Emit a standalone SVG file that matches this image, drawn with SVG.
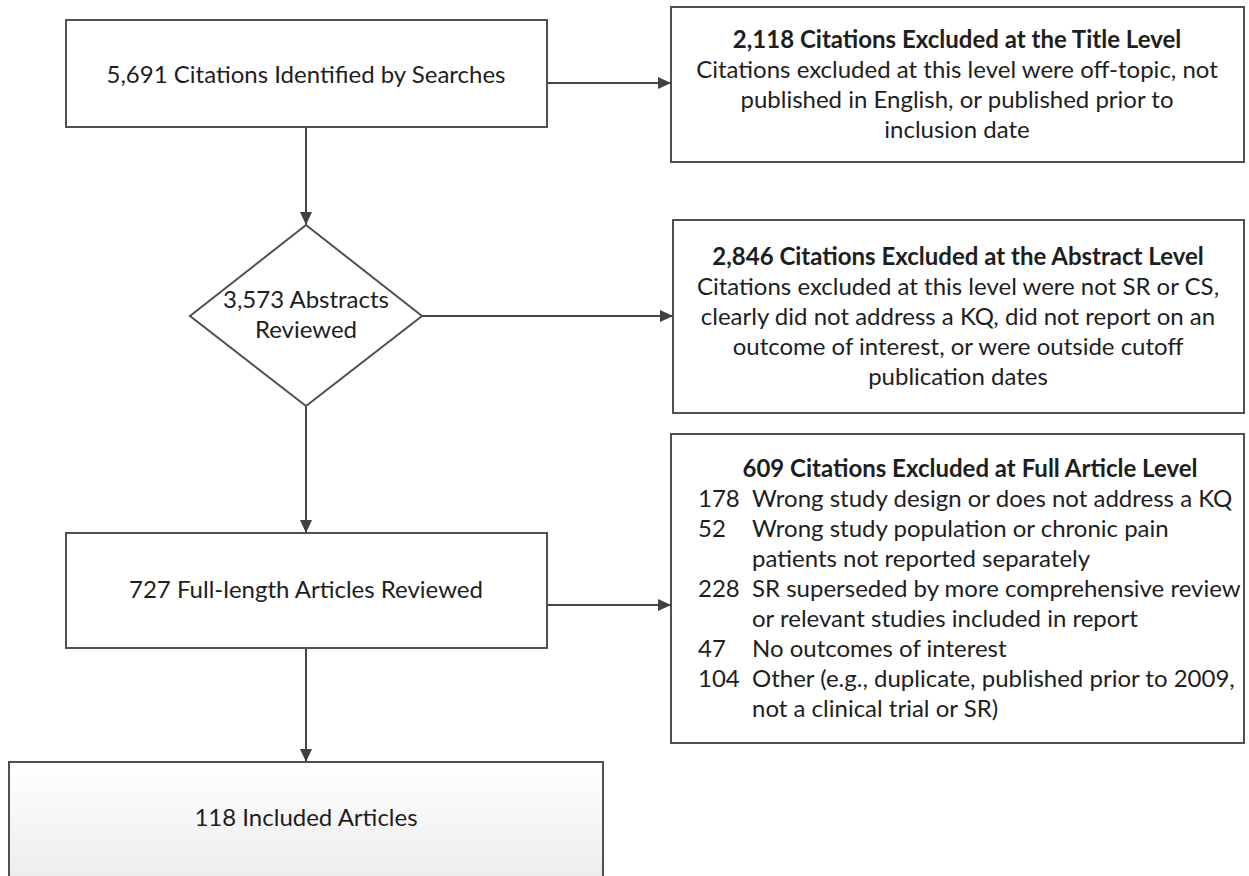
<svg xmlns="http://www.w3.org/2000/svg" width="1249" height="876" viewBox="0 0 1249 876">
<style>
.box{fill:#ffffff;stroke:#505050;stroke-width:2}
.t{font-family:Lato,"Liberation Sans",sans-serif;font-size:24px;fill:#1e1e1e}
.c{text-anchor:middle}
.b{font-weight:bold}
.con line{stroke:#454545;stroke-width:2;fill:none}
</style>
<defs>
<marker id="ah" markerUnits="userSpaceOnUse" markerWidth="14" markerHeight="12" refX="13" refY="6" orient="auto">
<path d="M0,0 L13,6 L0,12 Z" fill="#404040"/>
</marker>
<linearGradient id="g118" x1="0" y1="0" x2="0" y2="1">
<stop offset="0" stop-color="#ffffff"/>
<stop offset="1" stop-color="#e9e9e9"/>
</linearGradient>
</defs>
<rect width="1249" height="876" fill="#ffffff"/>

<g id="connectors" class="con">
<line x1="547" y1="83" x2="671" y2="83" marker-end="url(#ah)"/>
<line x1="306" y1="127" x2="306" y2="225" marker-end="url(#ah)"/>
<line x1="422" y1="316" x2="673" y2="316" marker-end="url(#ah)"/>
<line x1="306" y1="406" x2="306" y2="533" marker-end="url(#ah)"/>
<line x1="547" y1="605" x2="671" y2="605" marker-end="url(#ah)"/>
<line x1="306" y1="648" x2="306" y2="762" marker-end="url(#ah)"/>
</g>

<g id="n-searches">
<rect class="box" x="66" y="20" width="481" height="107"/>
<text class="t c" x="306" y="83">5,691 Citations Identified by Searches</text>
</g>

<g id="n-title-excl">
<rect class="box" x="671" y="7" width="573" height="155"/>
<text class="t c b" x="957" y="48">2,118 Citations Excluded at the Title Level</text>
<text class="t c" x="957" y="78">Citations excluded at this level were off-topic, not</text>
<text class="t c" x="957" y="108">published in English, or published prior to</text>
<text class="t c" x="957" y="138">inclusion date</text>
</g>

<g id="n-abstracts">
<polygon class="box" points="306,225 422,316 306,406 190,316"/>
<text class="t c" x="306" y="308">3,573 Abstracts</text>
<text class="t c" x="306" y="338">Reviewed</text>
</g>

<g id="n-abstract-excl">
<rect class="box" x="673" y="220" width="571" height="193"/>
<text class="t c b" x="958" y="265">2,846 Citations Excluded at the Abstract Level</text>
<text class="t c" x="958" y="295">Citations excluded at this level were not SR or CS,</text>
<text class="t c" x="958" y="325">clearly did not address a KQ, did not report on an</text>
<text class="t c" x="958" y="355">outcome of interest, or were outside cutoff</text>
<text class="t c" x="958" y="385">publication dates</text>
</g>

<g id="n-fulltext">
<rect class="box" x="66" y="533" width="481" height="115"/>
<text class="t c" x="306" y="598">727 Full-length Articles Reviewed</text>
</g>

<g id="n-full-excl">
<rect class="box" x="671" y="434" width="573" height="309"/>
<text class="t c b" x="970" y="477">609 Citations Excluded at Full Article Level</text>
<text class="t" x="698" y="507">178</text>
<text class="t" x="752" y="507">Wrong study design or does not address a KQ</text>
<text class="t" x="698" y="537">52</text>
<text class="t" x="752" y="537">Wrong study population or chronic pain</text>
<text class="t" x="752" y="567">patients not reported separately</text>
<text class="t" x="698" y="597">228</text>
<text class="t" x="752" y="597">SR superseded by more comprehensive review</text>
<text class="t" x="752" y="627">or relevant studies included in report</text>
<text class="t" x="698" y="657">47</text>
<text class="t" x="752" y="657">No outcomes of interest</text>
<text class="t" x="698" y="687">104</text>
<text class="t" x="752" y="687">Other (e.g., duplicate, published prior to 2009,</text>
<text class="t" x="752" y="717">not a clinical trial or SR)</text>
</g>

<g id="n-included">
<rect x="9" y="762" width="594" height="140" fill="url(#g118)" stroke="#505050" stroke-width="2"/>
<text class="t c" x="306" y="826">118 Included Articles</text>
</g>
</svg>
